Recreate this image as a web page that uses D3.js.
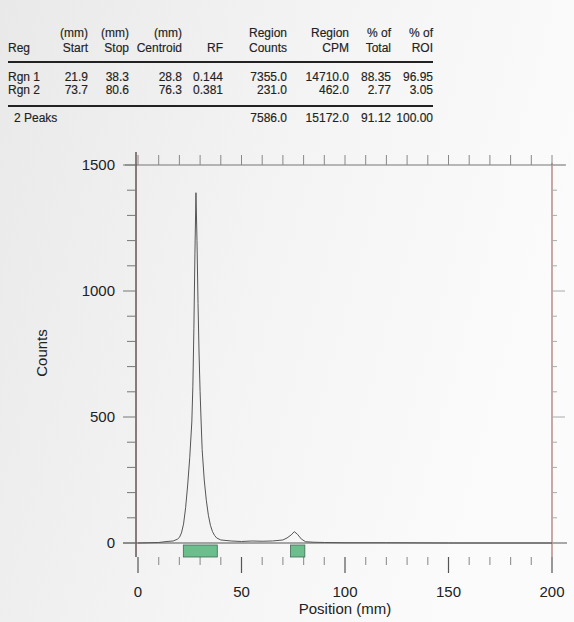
<!DOCTYPE html>
<html>
<head>
<meta charset="utf-8">
<script src="https://cdn.jsdelivr.net/npm/d3@7"></script>
<style>
  html, body { margin: 0; padding: 0; background: #f3f3f3; }
  svg { display: block; font-family: "Liberation Sans", Arial, sans-serif; }
</style>
</head>
<body>
<div id="chart"></div>
<script>
// chromatogram trace
const positions = [0, 5, 10, 14, 17, 19, 20, 21, 22, 23, 24, 25, 26, 26.5, 27, 27.5, 28, 28.5, 29, 29.5, 30, 30.5, 31, 32, 33, 34, 35, 36, 37, 38, 40, 45, 50, 55, 60, 65, 70, 72, 74, 75.5, 77, 79, 81, 85, 90, 100, 120, 150, 200];
const counts = [0, 1, 2, 6, 8, 15, 22, 40, 75, 140, 230, 340, 480, 620, 850, 1150, 1390, 1200, 950, 750, 600, 480, 370, 250, 170, 110, 70, 45, 30, 20, 12, 8, 6, 8, 7, 8, 12, 20, 32, 45, 35, 15, 5, 3, 2, 1, 1, 0, 0];

// region table
const regNames = ['Rgn 1', 'Rgn 2'];
const regStart = ['21.9', '73.7'];
const regStop = ['38.3', '80.6'];
const regCentroid = ['28.8', '76.3'];
const regRF = ['0.144', '0.381'];
const regCounts = ['7355.0', '231.0'];
const regCPM = ['14710.0', '462.0'];
const regPctTotal = ['88.35', '2.77'];
const regPctROI = ['96.95', '3.05'];
const totalsLabel = '2 Peaks';
const totals = ['7586.0', '15172.0', '91.12', '100.00'];

// region bars (mm)
const barStart = [21.9, 73.7];
const barStop = [38.3, 80.6];

const xTicks = [0, 50, 100, 150, 200];
const yTicks = [0, 500, 1000, 1500];

const W = 574, H = 622;
const svg = d3.select('#chart').append('svg')
  .attr('width', W)
  .attr('height', H);

// paper background
const grad = svg.append('defs').append('linearGradient')
  .attr('id', 'paper').attr('x1', '0').attr('x2', '1').attr('y1', '0').attr('y2', '0.3');
grad.append('stop').attr('offset', '0').attr('stop-color', '#e9e9e9');
grad.append('stop').attr('offset', '0.6').attr('stop-color', '#f5f5f5');
grad.append('stop').attr('offset', '1').attr('stop-color', '#fbfbfb');
svg.append('rect').attr('width', W).attr('height', H).attr('fill', 'url(#paper)');

// ---------- table ----------
const tbl = svg.append('g').attr('font-size', 12).attr('fill', '#222')
  .attr('stroke', '#222').attr('stroke-width', 0.15);
const colX = [88, 129, 182, 223, 287, 349, 391, 433];
const head1 = ['(mm)', '(mm)', '(mm)', '', 'Region', 'Region', '% of', '% of'];
const head2 = ['Start', 'Stop', 'Centroid', 'RF', 'Counts', 'CPM', 'Total', 'ROI'];

tbl.selectAll('.h1').data(head1).join('text')
  .attr('x', (d, i) => colX[i]).attr('y', 37)
  .attr('text-anchor', 'end').text(d => d);
tbl.selectAll('.h2').data(head2).join('text')
  .attr('x', (d, i) => colX[i]).attr('y', 52)
  .attr('text-anchor', 'end').text(d => d);
tbl.append('text').attr('x', 8).attr('y', 52).text('Reg');

tbl.append('line').attr('x1', 8).attr('x2', 433).attr('y1', 62).attr('y2', 62)
  .attr('stroke', '#222').attr('stroke-width', 2);

const rows = regNames.map((n, i) => [regStart[i], regStop[i], regCentroid[i], regRF[i], regCounts[i], regCPM[i], regPctTotal[i], regPctROI[i]]);
rows.forEach((r, j) => {
  const yy = 81 + j * 13;
  tbl.append('text').attr('x', 8).attr('y', yy).text(regNames[j]);
  r.forEach((v, i) => {
    tbl.append('text').attr('x', colX[i]).attr('y', yy).attr('text-anchor', 'end').text(v);
  });
});

tbl.append('line').attr('x1', 8).attr('x2', 433).attr('y1', 106).attr('y2', 106)
  .attr('stroke', '#222').attr('stroke-width', 2);
tbl.append('text').attr('x', 14).attr('y', 122).text(totalsLabel);
totals.forEach((v, i) => {
  tbl.append('text').attr('x', colX[i + 4]).attr('y', 122).attr('text-anchor', 'end').text(v);
});

// ---------- plot ----------
const x = d3.scaleLinear().domain([0, 200]).range([138, 552]);
const y = d3.scaleLinear().domain([0, 1500]).range([543, 165]);

const g = svg.append('g').attr('stroke-linecap', 'butt');

// frame lines
g.append('line').attr('x1', 125).attr('x2', 566).attr('y1', y(1500)).attr('y2', y(1500))
  .attr('stroke', '#777').attr('stroke-width', 1.2);
g.append('line').attr('x1', 123).attr('x2', 567).attr('y1', y(0)).attr('y2', y(0))
  .attr('stroke', '#555').attr('stroke-width', 1.2);
g.append('line').attr('x1', 136).attr('x2', 136).attr('y1', 152).attr('y2', 557)
  .attr('stroke', '#5a4a4a').attr('stroke-width', 1.4);
g.append('line').attr('x1', x(200)).attr('x2', x(200)).attr('y1', 163).attr('y2', 557)
  .attr('stroke', '#b07a7a').attr('stroke-width', 1.3);

// left axis ticks
const yMinor = d3.range(0, 1501, 100);
g.selectAll('.ly').data(yMinor).join('line')
  .attr('x1', d => d % 500 === 0 ? 123 : 127).attr('x2', 136)
  .attr('y1', d => y(d)).attr('y2', d => y(d))
  .attr('stroke', '#777').attr('stroke-width', 1);
// right axis ticks
g.selectAll('.ry').data(yMinor).join('line')
  .attr('x1', x(200)).attr('x2', d => d % 500 === 0 ? x(200) + 13 : x(200) + 5)
  .attr('y1', d => y(d)).attr('y2', d => y(d))
  .attr('stroke', '#aaa').attr('stroke-width', 1);

// top ticks
const xMinor = d3.range(0, 201, 10);
g.selectAll('.tx').data(xMinor).join('line')
  .attr('x1', d => x(d)).attr('x2', d => x(d))
  .attr('y1', y(1500) - 10).attr('y2', y(1500))
  .attr('stroke', '#888').attr('stroke-width', 1);
// bottom ticks
g.selectAll('.bx').data(xMinor).join('line')
  .attr('x1', d => x(d)).attr('x2', d => x(d))
  .attr('y1', 557).attr('y2', d => d % 50 === 0 ? 573 : 565)
  .attr('stroke', d => d % 50 === 0 ? '#555' : '#999').attr('stroke-width', 1.2);

// tick labels
g.selectAll('.yl').data(yTicks).join('text')
  .attr('x', 115).attr('y', d => y(d)).attr('dy', '0.36em')
  .attr('text-anchor', 'end').attr('font-size', 15).attr('fill', '#222')
  .text(d => d);
g.selectAll('.xl').data(xTicks).join('text')
  .attr('x', d => x(d)).attr('y', 597)
  .attr('text-anchor', 'middle').attr('font-size', 15).attr('fill', '#222')
  .text(d => d);

// axis titles
g.append('text').attr('x', x(100)).attr('y', 614)
  .attr('text-anchor', 'middle').attr('font-size', 15).attr('fill', '#222')
  .text('Position (mm)');
g.append('text').attr('transform', 'translate(47,' + 353 + ') rotate(-90)')
  .attr('text-anchor', 'middle').attr('font-size', 15).attr('fill', '#222')
  .text('Counts');

// region bars
g.selectAll('.reg').data(barStart).join('rect')
  .attr('x', (d, i) => x(d)).attr('width', (d, i) => x(barStop[i]) - x(d))
  .attr('y', 545).attr('height', 12)
  .attr('fill', '#6cbf8c').attr('stroke', '#3f6a55').attr('stroke-width', 0.8);

// trace
const line = d3.line()
  .x((d, i) => x(positions[i]))
  .y(d => y(d));
g.append('path').datum(counts)
  .attr('fill', 'none').attr('stroke', '#555').attr('stroke-width', 1)
  .attr('d', line);
</script>
</body>
</html>
